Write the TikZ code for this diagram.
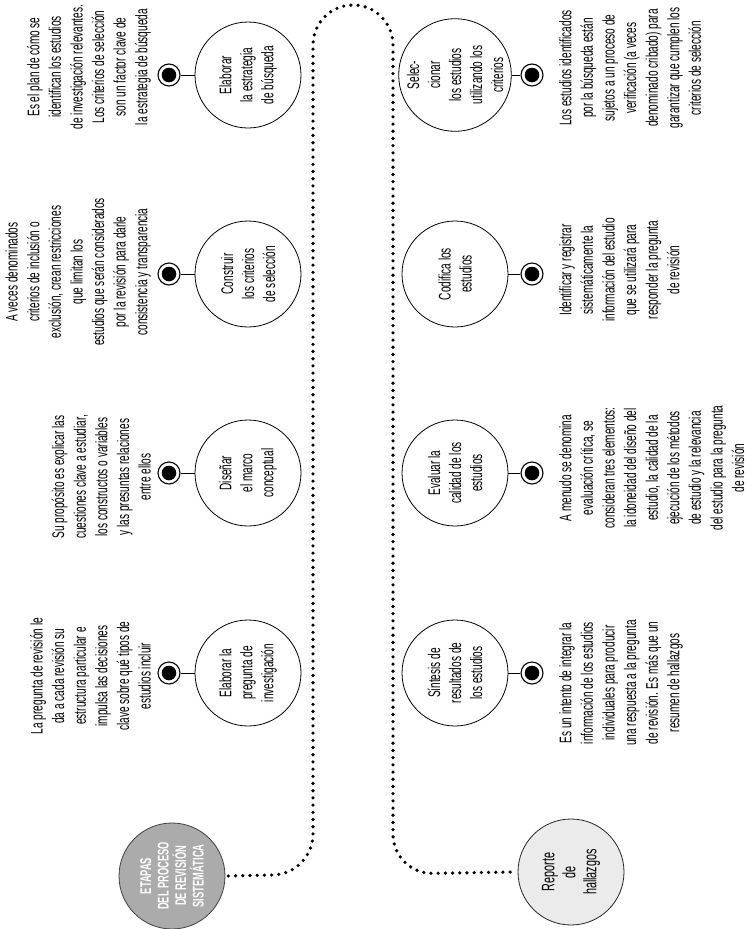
\documentclass[tikz,border=0pt]{standalone}
\usepackage{fontspec}
\setmainfont[FakeStretch=0.6]{Liberation Sans}
\begin{document}
\begin{tikzpicture}[x=1pt,y=-1pt,
  stage/.style={circle,draw=black,line width=0.8pt,fill=white,minimum size=106pt,inner sep=0pt,
    rotate=90,align=center,font=\fontsize{16.8}{21}\selectfont},
  desc/.style={rotate=90,align=center,inner sep=0pt,font=\fontsize{16.8}{21.6}\selectfont},
  marker/.style={circle,draw=black,line width=1.1pt,fill=white,minimum size=22pt,inner sep=0pt,
    path picture={\fill[black] (path picture bounding box.center) circle (7.3pt);}},
  link/.style={draw=black,line width=0.8pt},
  dotpath/.style={line width=3.6pt,line cap=round,dash pattern=on 0pt off 7.2pt,rounded corners=40pt}
]
\useasboundingbox (0,0) rectangle (745,929);

% left column stages
\node[stage] (l1) at (248,75) {Elaborar\\la estrategia\\de búsqueda};
\node[stage] (l2) at (248,274) {Construir\\los criterios\\de selección};
\node[stage] (l3) at (248,473) {Diseñar\\el marco\\conceptual};
\node[stage] (l4) at (248,673) {Elaborar la\\pregunta de\\investigación};

% right column stages
\node[stage] (r1) at (455,75) {Selec-\\cionar\\los estudios\\utilizando los\\criterios};
\node[stage] (r2) at (455,274) {Codifica los\\estudios};
\node[stage] (r3) at (455,473) {Evaluar la\\calidad de los\\estudios};
\node[stage] (r4) at (455,673) {Síntesis de\\resultados de\\los estudios};

% markers
\node[marker] (ml1) at (169,75) {};
\node[marker] (ml2) at (169,274) {};
\node[marker] (ml3) at (169,473) {};
\node[marker] (ml4) at (169,673) {};
\node[marker] (mr1) at (532,75) {};
\node[marker] (mr2) at (532,274) {};
\node[marker] (mr3) at (532,473) {};
\node[marker] (mr4) at (532,673) {};

\draw[link] (ml1) -- (l1);
\draw[link] (ml2) -- (l2);
\draw[link] (ml3) -- (l3);
\draw[link] (ml4) -- (l4);
\draw[link] (mr1) -- (r1);
\draw[link] (mr2) -- (r2);
\draw[link] (mr3) -- (r3);
\draw[link] (mr4) -- (r4);

% left descriptions
\node[desc,anchor=south] (dl1) at (151,67) {Es el plan de cómo se\\identifican los estudios\\de investigación relevantes.\\Los criterios de selección\\son un factor clave de\\la estrategia de búsqueda};
\node[desc,anchor=south] (dl2) at (151,272) {A veces denominados\\criterios de inclusión o\\exclusión, crean restricciones\\que limitan los\\estudios que serán considerados\\por la revisión para darle\\consistencia y transparencia};
\node[desc,anchor=south] (dl3) at (151,477) {Su propósito es explicar las\\cuestiones clave a estudiar,\\los constructos o variables\\y las presuntas relaciones\\entre ellos};
\node[desc,anchor=south] (dl4) at (151,676) {La pregunta de revisión le\\da a cada revisión su\\estructura particular e\\impulsa las decisiones\\clave sobre qué tipos de\\estudios incluir};

% right descriptions
\node[desc,anchor=north] (dr1) at (559,68) {Los estudios identificados\\por la búsqueda están\\sujetos a un proceso de\\verificación (a veces\\denominado cribado) para\\garantizar que cumplen los\\criterios de selección};
\node[desc,anchor=north] (dr2) at (559,270) {Identificar y registrar\\sistemáticamente la\\información del estudio\\que se utilizará para\\responder la pregunta\\de revisión};
\node[desc,anchor=north] (dr3) at (559,468) {A menudo se denomina\\evaluación crítica, se\\consideran tres elementos:\\la idoneidad del diseño del\\estudio, la calidad de la\\ejecución de los métodos\\de estudio y la relevancia\\del estudio para la pregunta\\de revisión};
\node[desc,anchor=north] (dr4) at (559,683) {Es un intento de integrar la\\información de los estudios\\individuales para producir\\una respuesta a la pregunta\\de revisión. Es más que un\\resumen de hallazgos};

% start and end
\node[circle,draw=black!75,line width=0.8pt,fill=black!33,minimum size=106pt,inner sep=0pt,rotate=90,
  align=center,text=white,font=\fontsize{15.5}{17.5}\selectfont\bfseries] (etapas) at (172,876)
  {ETAPAS\\DEL PROCESO\\DE REVISIÓN\\SISTEMÁTICA};
\node[circle,draw=black!85,line width=0.8pt,fill=black!8,minimum size=106pt,inner sep=0pt,rotate=90,
  align=center,font=\fontsize{18}{21}\selectfont] (reporte) at (571,872)
  {Reporte\\de\\hallazgos};

\coordinate (bl) at (313,874);
\coordinate (tl) at (313,5);
\coordinate (tr) at (393,5);
\coordinate (br) at (393,874);
\draw[dotpath] ([xshift=3pt]etapas.south) -- (bl) -- (tl) -- (tr) -- (br) -- ([xshift=-4pt]reporte.north);
\end{tikzpicture}
\end{document}
